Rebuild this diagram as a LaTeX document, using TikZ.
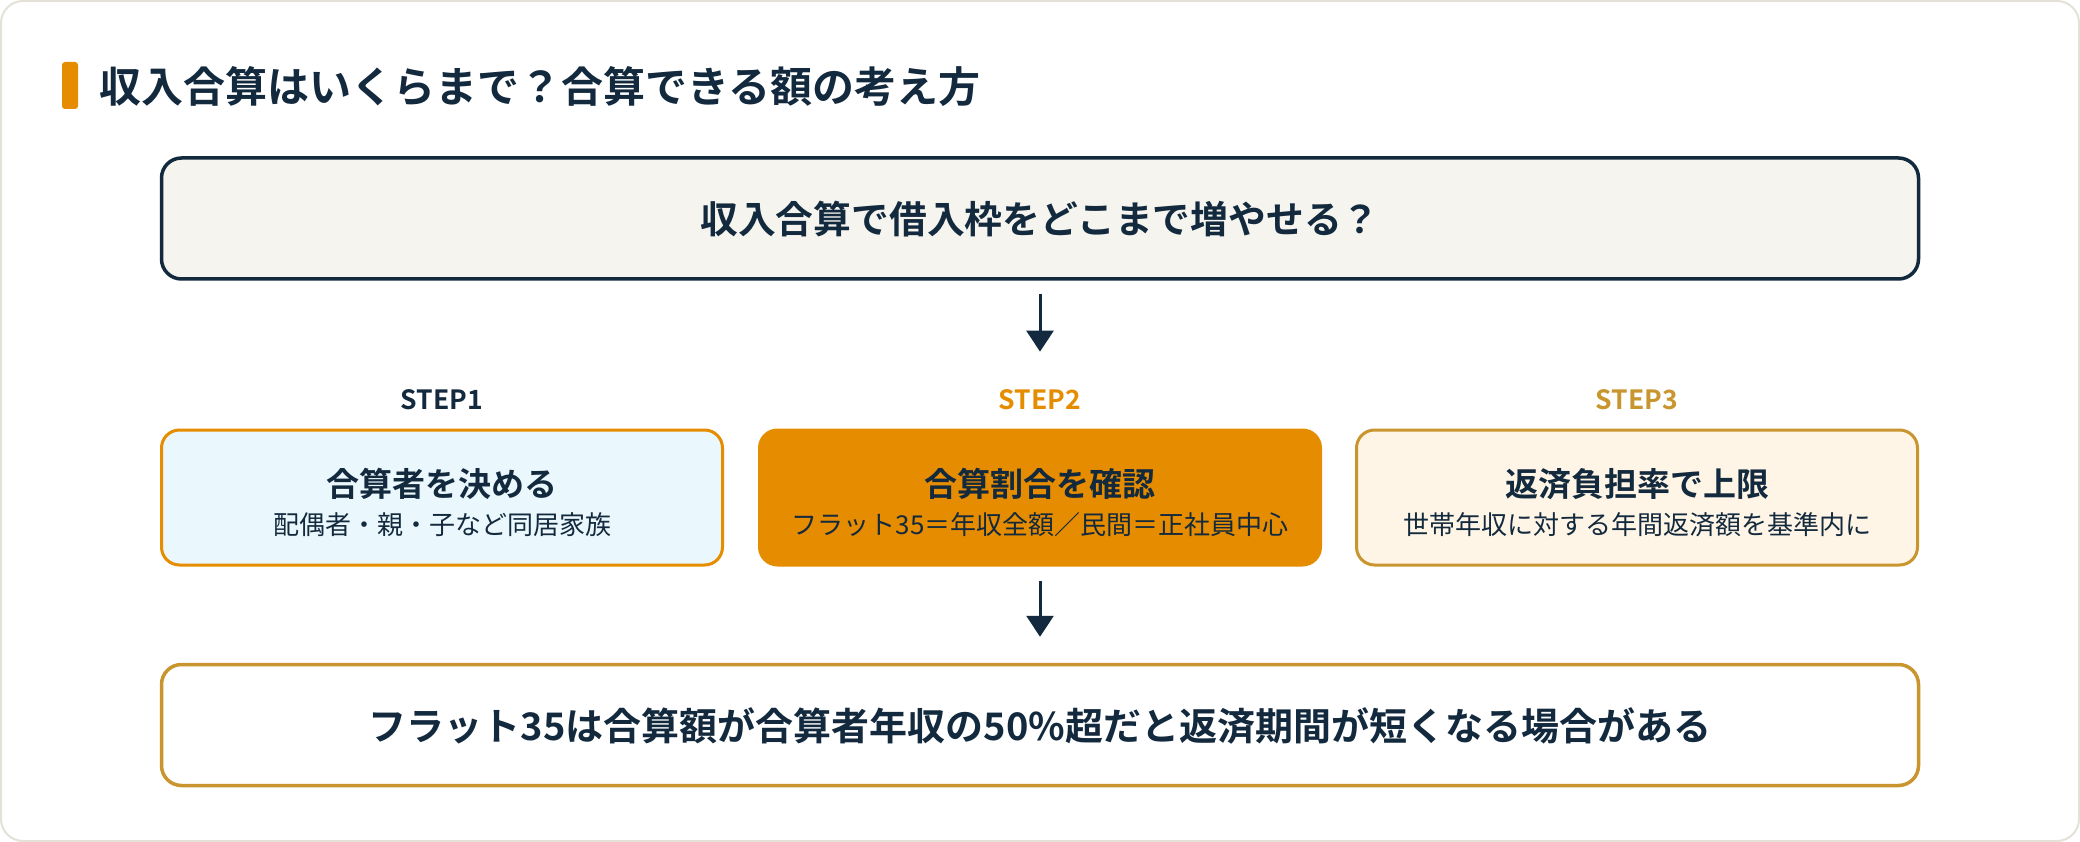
\documentclass[tikz,border=0pt]{standalone}
\usepackage{fontspec}
\setmainfont{Noto Sans CJK JP}[BoldFont={Noto Sans CJK JP Bold}]
\usetikzlibrary{arrows.meta}
\definecolor{navy}{HTML}{13293D}
\definecolor{orng}{HTML}{E68C00}
\definecolor{gold}{HTML}{C9952F}
\definecolor{topfill}{HTML}{F5F4EF}
\definecolor{cyanfill}{HTML}{EAF7FC}
\definecolor{creamfill}{HTML}{FEF5E6}
\definecolor{framec}{HTML}{E3E1D8}
\tikzset{
  wide/.style={rounded corners=20, minimum width=1757, minimum height=121, line width=3.5, inner sep=0},
  stepbox/.style={rounded corners=18, minimum width=561, minimum height=135, line width=3, inner sep=0},
  txt/.style={inner sep=0, text=navy},
  arr/.style={draw=navy, line width=3, -{Triangle[width=27,length=21]}}
}
\begin{document}
\begin{tikzpicture}[x=1pt,y=-1pt]
\useasboundingbox (0,0) rectangle (2080,842);
\draw[rounded corners=22, draw=framec, line width=2, fill=white] (1,1) rectangle (2079,841);
% title
\fill[orng, rounded corners=3] (62,62) rectangle (78,109);
\node[txt, anchor=west, font=\fontsize{42}{50}\selectfont\bfseries] (title) at (99,87) {収入合算はいくらまで？合算できる額の考え方};
% top box
\node[wide, draw=navy, fill=topfill] (top) at (1040,218.5) {};
\node[txt, font=\fontsize{37.8}{44}\selectfont\bfseries] (toptxt) at (1040,219) {収入合算で借入枠をどこまで増やせる？};
% step labels
\node[txt, font=\fontsize{26.5}{30}\selectfont\bfseries] (s1) at (442,400) {STEP1};
\node[txt, text=orng, font=\fontsize{26.5}{30}\selectfont\bfseries] (s2) at (1040,400) {STEP2};
\node[txt, text=gold, font=\fontsize{26.5}{30}\selectfont\bfseries] (s3) at (1637,400) {STEP3};
% step boxes
\node[stepbox, draw=orng, fill=cyanfill] (b1) at (442,497.5) {};
\node[stepbox, draw=orng, fill=orng] (b2) at (1040,497.5) {};
\node[stepbox, draw=gold, fill=creamfill] (b3) at (1637,497.5) {};
\node[txt, font=\fontsize{33}{40}\selectfont\bfseries] (b1t) at (442,484) {合算者を決める};
\node[txt, font=\fontsize{26}{32}\selectfont] (b1s) at (442,525) {配偶者・親・子など同居家族};
\node[txt, font=\fontsize{33}{40}\selectfont\bfseries] (b2t) at (1040,484) {合算割合を確認};
\node[txt, font=\fontsize{26}{32}\selectfont] (b2s) at (1040,525) {フラット35＝年収全額／民間＝正社員中心};
\node[txt, font=\fontsize{33}{40}\selectfont\bfseries] (b3t) at (1637,484) {返済負担率で上限};
\node[txt, font=\fontsize{26}{32}\selectfont] (b3s) at (1637,525) {世帯年収に対する年間返済額を基準内に};
% bottom box
\node[wide, draw=gold, fill=white] (bot) at (1040,725) {};
\node[txt, font=\fontsize{38}{46}\selectfont\bfseries] (bottxt) at (1040,726) {フラット35は合算額が合算者年収の50\%超だと返済期間が短くなる場合がある};
% arrows
\draw[arr, shorten <=13, shorten >=38] (top.south) -- (s2.north);
\draw[arr, shorten <=14, shorten >=26] (b2.south) -- (bot.north);
\end{tikzpicture}
\end{document}
